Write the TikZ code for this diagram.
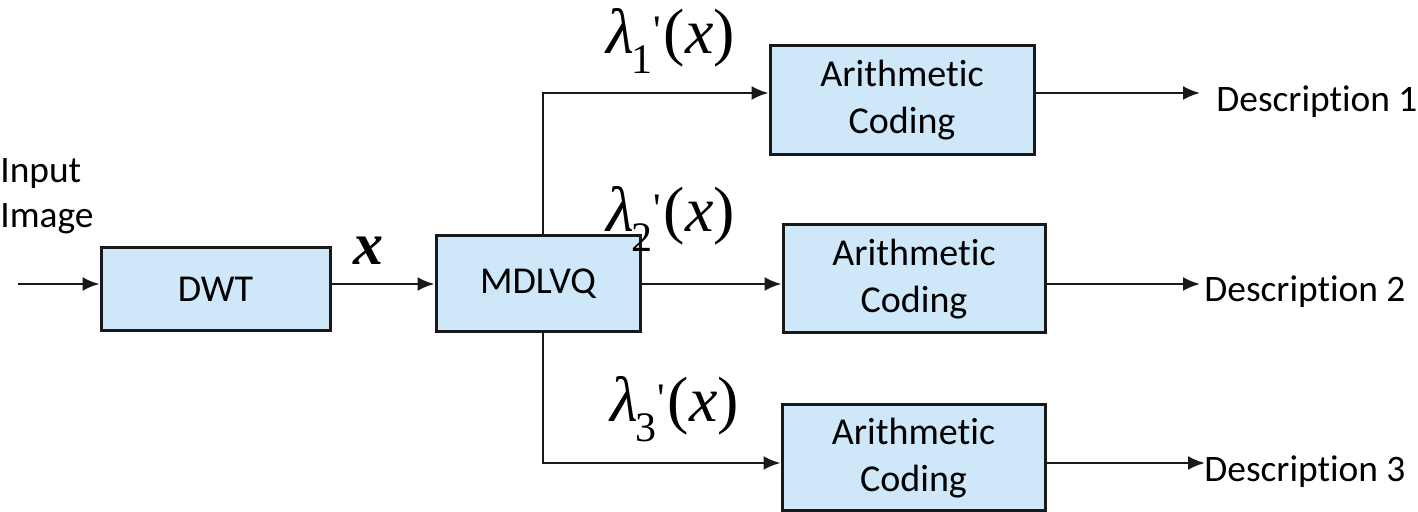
\documentclass[tikz,border=0pt]{standalone}
\usepackage{fontspec}
\setmainfont[Ligatures=NoCommon]{Carlito}
\newfontfamily\tms{Liberation Serif}
\usetikzlibrary{arrows.meta}
\definecolor{boxfill}{RGB}{207,232,249}
\definecolor{edge}{RGB}{25,25,25}
\tikzset{
  box/.style={draw=edge, fill=boxfill, line width=1.5pt, inner sep=0pt, align=center,
              font=\fontsize{19}{23.5}\selectfont},
  arr/.style={draw=edge, line width=1.2pt, -{Latex[length=8.5pt,width=7pt]}},
  lbl/.style={inner sep=0pt, font=\fontsize{18.7}{22.5}\selectfont},
  lam/.style={inner sep=0pt, anchor=base west, font=\tms\fontsize{32}{34}\selectfont},
}
\newcommand{\lamlabel}[1]{\itshape λ\kern-0.04em\raisebox{-0.3em}{\upshape\fontsize{21}{22}\selectfont #1}\kern0.02em\raisebox{0.15em}{\upshape\fontsize{21}{22}\selectfont '}\kern0.04em\upshape(\itshape x\upshape)}
\begin{document}
\begin{tikzpicture}[x=0.5pt,y=-0.5pt]
\useasboundingbox (0,0) rectangle (1418,512);
% boxes
\node[box, minimum width=114.5pt, minimum height=41.5pt] (dwt) at (215.5,289.5) {DWT};
\node[box, minimum width=102pt, minimum height=48pt] (mdlvq) at (538,284) {MDLVQ};
\node[box, minimum width=132pt, minimum height=54.5pt] (ac1) at (902,100) {Arithmetic\\Coding};
\node[box, minimum width=131pt, minimum height=54pt] (ac2) at (914,279) {Arithmetic\\Coding};
\node[box, minimum width=131.5pt, minimum height=53pt] (ac3) at (913.5,458) {Arithmetic\\Coding};
% texts
\node[lbl, anchor=base west, align=left] (input) at (0,228) {Input\\Image};
\node[lbl, anchor=base west] (desc1) at (1216,112) {Description 1};
\node[lbl, anchor=base west] (desc2) at (1204,302) {Description 2};
\node[lbl, anchor=base west] (desc3) at (1204,482) {Description 3};
\node[inner sep=0pt, anchor=base west, font=\tms\bfseries\itshape\fontsize{30}{30}\selectfont] (xlab) at (353,265) {x};
\node[lam] (lam1) at (606,54) {\lamlabel{1}};
\node[lam] (lam2) at (606,232) {\lamlabel{2}};
\node[lam] (lam3) at (610,422) {\lamlabel{3}};
% coordinates
\coordinate (in) at (18,284);
\coordinate (bx) at (543,284);
\coordinate (y1) at (0,93);
\coordinate (y3) at (0,463);
\coordinate (e1) at (1200,93);
\coordinate (e2) at (1200,284);
\coordinate (e3) at (1205,463);
% connectors
\draw[arr] (in) -- (in -| dwt.west);
\draw[arr] (dwt.east |- in) -- (mdlvq.west |- in);
\draw[arr] (mdlvq.east |- in) -- (ac2.west |- in);
\draw[arr] (bx |- mdlvq.north) |- (ac1.west |- y1);
\draw[arr] (bx |- mdlvq.south) |- (ac3.west |- y3);
\draw[arr] (ac1.east |- y1) -- (e1);
\draw[arr] (ac2.east |- in) -- (e2);
\draw[arr] (ac3.east |- y3) -- (e3);
\end{tikzpicture}
\end{document}
